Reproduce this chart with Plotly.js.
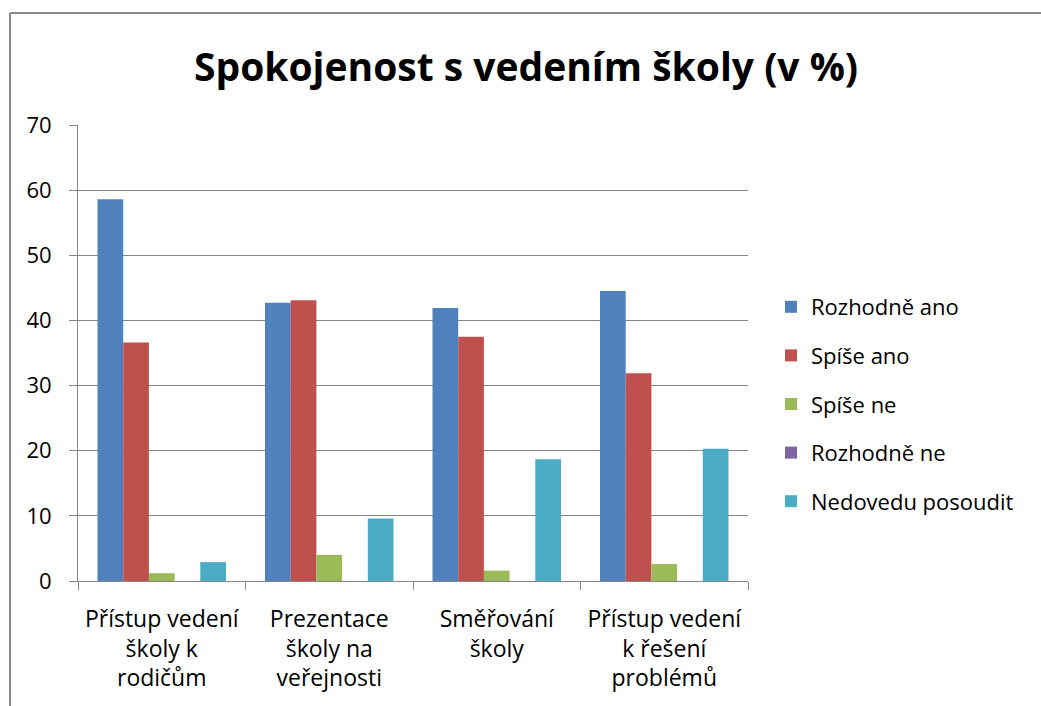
<!DOCTYPE html>
<html>
<head>
<meta charset="utf-8">
<script src="https://cdn.plot.ly/plotly-3.0.1.min.js"></script>
<style>html,body{margin:0;padding:0;background:#fff;}#chart{width:1041px;height:706px;}</style>
</head>
<body>
<div id="chart"></div>
<script>
const categories = [
  "Přístup vedení<br>školy k<br>rodičům",
  "Prezentace<br>školy na<br>veřejnosti",
  "Směřování<br>školy",
  "Přístup vedení<br>k řešení<br>problémů"
];
const seriesNames = ["Rozhodně ano", "Spíše ano", "Spíše ne", "Rozhodně ne", "Nedovedu posoudit"];
const rozhodneAno = [58.6, 42.7, 41.9, 44.5];
const spiseAno = [36.6, 43.1, 37.5, 31.9];
const spiseNe = [1.2, 4.0, 1.6, 2.6];
const rozhodneNe = [0, 0, 0, 0];
const nedovedu = [2.9, 9.6, 18.7, 20.3];
const colors = ["#4F81BD", "#C0504D", "#9BBB59", "#8064A2", "#4BACC6"];

const values = [rozhodneAno, spiseAno, spiseNe, rozhodneNe, nedovedu];
const FONT = "'Open Sans', 'Noto Sans', sans-serif";

const traces = values.map((v, i) => ({
  type: "bar",
  name: seriesNames[i],
  x: categories,
  y: v,
  legendgroup: "g" + i,
  marker: {color: colors[i], line: {width: 0}},
  hoverinfo: "skip"
}));

const W = 1041, H = 706;
const L = 78, R = 748, T = 125, B = 581.5;
const pw = R - L, ph = B - T;
function px2x(p){ return (p - L) / pw; }
function py2y(p){ return (B - p) / ph; }

const layout = {
  width: W, height: H,
  margin: {l: L, r: W - R, t: T, b: H - B, pad: 0, autoexpand: false},
  paper_bgcolor: "#ffffff",
  plot_bgcolor: "#ffffff",
  font: {family: FONT, size: 22, color: "#000000"},
  title: {
    text: "Spokojenost s vedením školy (v %)",
    font: {family: FONT, size: 39, color: "#000000", weight: "bold"},
    x: 526 / W, xref: "container", xanchor: "center",
    y: 1 - 67 / H, yref: "container", yanchor: "middle"
  },
  barmode: "group",
  bargap: 0.233,
  bargroupgap: 0,
  xaxis: {
    type: "category",
    showgrid: false,
    showline: true, linecolor: "#868686", linewidth: 1,
    ticks: "outside", tickson: "boundaries", ticklen: 8, tickcolor: "#868686",
    ticklabelstandoff: 17,
    tickfont: {family: FONT, size: 23, color: "#000000"},
    fixedrange: true
  },
  yaxis: {
    range: [0, 70],
    tickmode: "array",
    tickvals: [0, 10, 20, 30, 40, 50, 60, 70],
    showgrid: true, gridcolor: "#868686", gridwidth: 1,
    showline: true, linecolor: "#868686", linewidth: 1,
    zeroline: false,
    ticks: "outside", ticklen: 8, tickcolor: "#868686",
    ticklabelstandoff: 13,
    tickfont: {family: FONT, size: 22, color: "#000000"},
    fixedrange: true
  },
  legend: {
    xref: "container", yref: "container",
    x: 771 / W, xanchor: "left",
    y: 1 - 286 / H, yanchor: "top",
    font: {family: FONT, size: 22, color: "#000000"},
    tracegroupgap: 17,
    bgcolor: "rgba(0,0,0,0)",
    traceorder: "grouped"
  },
  shapes: [
    {type: "line", xref: "paper", yref: "paper",
     x0: px2x(10), x1: px2x(10), y0: py2y(13), y1: py2y(H + 5),
     line: {color: "#8a8a8a", width: 2}},
    {type: "line", xref: "paper", yref: "paper",
     x0: px2x(10), x1: px2x(W + 5), y0: py2y(13), y1: py2y(13),
     line: {color: "#8a8a8a", width: 2}}
  ],
  showlegend: true
};

Plotly.newPlot("chart", traces, layout, {displayModeBar: false, staticPlot: true});
</script>
</body>
</html>
